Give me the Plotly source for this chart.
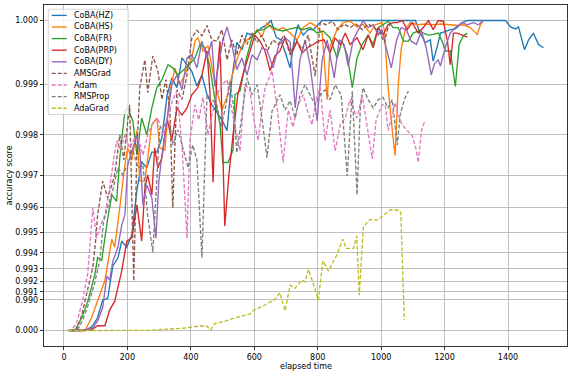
import numpy as np
import plotly.graph_objects as go

# ---------------- data (accuracy score vs elapsed time) ----------------
hz_t = [12, 37, 62, 87, 106, 122, 138, 154, 170, 182, 198, 214, 230, 245, 261, 277, 293, 309, 325, 340,
        356, 372, 388, 403, 419, 435, 451, 466, 482, 498, 514, 529, 545, 561, 577, 593, 609, 624, 640, 653,
        669, 684, 700, 713, 726, 738, 754, 770, 786, 801, 814, 850, 890, 930, 970, 1010, 1050, 1090, 1108, 1123,
        1139, 1155, 1164, 1177, 1187, 1202, 1218, 1234, 1256, 1272, 1310, 1350, 1392, 1408, 1424, 1433, 1452, 1465, 1480, 1496,
        1512]
hz_acc = [0.30, 0.60, 0.90, 0.9804, 0.9862, 0.98995, 0.9902, 0.9932, 0.9937, 0.9946, 0.9943, 0.9949, 0.99657, 0.99736, 0.9972, 0.9976, 0.9976, 0.99794, 0.9988, 0.99911,
          0.99894, 0.99944, 0.99933, 0.99922, 0.99897, 0.99916, 0.99881, 0.99862, 0.99848, 0.99832, 0.99809, 0.99908, 0.99968, 0.99957, 0.99982, 0.99979, 0.99984, 0.9999, 0.99994, 1.0,
          0.99976, 0.99972, 0.99949, 0.99928, 0.99972, 0.99994, 0.99979, 0.99987, 0.99987, 0.99994, 1.0, 1.0, 1.0, 1.0, 1.0, 1.0, 1.0, 1.0, 1.0, 0.99982,
          0.99968, 0.99972, 0.99939, 0.99962, 0.99982, 0.99984, 0.99987, 0.99988, 0.99997, 1.0, 1.0, 1.0, 1.0, 0.99991, 0.99988, 0.99991, 0.99957, 0.99972, 0.99982, 0.99965,
          0.9996]

hs_t = [18, 43, 66, 87, 106, 129, 151, 160, 176, 192, 201, 214, 230, 239, 255, 277, 293, 302, 318, 334,
        350, 365, 381, 403, 413, 422, 438, 454, 476, 498, 514, 529, 545, 561, 577, 593, 609, 624, 640, 659,
        675, 691, 713, 735, 754, 776, 798, 814, 830, 839, 861, 880, 902, 924, 943, 965, 981, 1003, 1010, 1022,
        1035, 1044, 1054, 1063, 1076, 1092, 1114, 1139, 1164, 1190, 1218, 1243, 1259, 1281, 1303, 1313, 1322]
hs_acc = [0.3, 0.6, 0.9, 0.9862, 0.9898, 0.9921, 0.9947, 0.9943, 0.9960, 0.99728, 0.9977, 0.9974, 0.9981, 0.99683, 0.99683, 0.99822, 0.99836, 0.9977, 0.99765, 0.99888,
          0.99928, 0.99899, 0.99916, 0.99944, 0.9997, 0.99975, 0.99955, 0.99963, 0.99902, 0.99852, 0.99877, 0.99913, 0.99941, 0.99962, 0.99972, 0.99976, 0.99987, 0.99976, 0.99997, 0.99987,
          0.99987, 0.9999, 0.99982, 0.99972, 0.9999, 0.99997, 0.99991, 0.99982, 0.99872, 0.99962, 0.99987, 0.99997, 0.99999, 0.99991, 0.99995, 0.99982, 0.99994, 0.99997, 0.99987, 0.99894,
          0.99811, 0.99751, 0.99899, 0.99957, 0.99987, 0.99997, 0.99994, 0.99995, 0.99994, 0.99995, 0.99994, 0.99993, 0.99994, 0.9999, 0.9998, 0.99994, 1.0]

fr_t = [18, 34, 56, 75, 97, 106, 119, 138, 151, 166, 176, 192, 201, 217, 230, 245, 261, 277, 293, 309,
        328, 343, 359, 375, 391, 413, 429, 444, 460, 476, 492, 501, 517, 533, 539, 555, 574, 593, 609, 630,
        650, 672, 691, 713, 735, 754, 776, 798, 817, 839, 861, 877, 893, 909, 924, 940, 959, 975, 991, 1006,
        1022, 1038, 1054, 1070, 1086, 1101, 1117, 1133, 1149, 1164, 1180, 1193, 1202, 1218, 1234, 1246, 1259, 1272]
fr_acc = [0.3, 0.5, 0.9862, 0.9898, 0.99254, 0.99372, 0.99357, 0.9956, 0.99641, 0.9962, 0.99746, 0.9985, 0.99856, 0.9983, 0.99753, 0.99836, 0.998, 0.99856, 0.99894, 0.99908,
          0.99933, 0.99928, 0.99916, 0.99923, 0.99931, 0.99944, 0.99965, 0.9996, 0.9993, 0.99872, 0.99822, 0.99734, 0.99734, 0.99765, 0.99881, 0.99888, 0.99941, 0.99975, 0.99986, 0.99987,
          0.99993, 0.99987, 0.99985, 0.99988, 0.9999, 0.99987, 0.9999, 0.99982, 0.99985, 0.99975, 0.99944, 0.9997, 0.99949, 0.99894, 0.99944, 0.99965, 0.99979, 0.99965, 0.9999, 0.99994,
          0.99999, 0.9999, 0.9999, 0.9997, 0.9997, 0.99982, 0.99985, 0.99982, 0.99979, 0.9998, 0.99982, 0.99969, 0.99955, 0.99955, 0.99896, 0.99965, 0.99978, 0.99982]

prp_t = [24, 56, 87, 106, 129, 144, 160, 182, 198, 214, 230, 245, 255, 264, 277, 286, 296, 309, 325, 340,
         356, 372, 388, 403, 422, 435, 451, 460, 470, 482, 492, 507, 520, 533, 548, 564, 586, 602, 618, 634,
         650, 665, 681, 697, 716, 735, 751, 770, 786, 801, 820, 839, 855, 871, 887, 902, 924, 943, 959, 975,
         991, 1006, 1022, 1038, 1051, 1067, 1082, 1098, 1117, 1133, 1149, 1164, 1180, 1196, 1209, 1218, 1228, 1240, 1256, 1272]
prp_acc = [0.2, 0.5, 0.9735, 0.982, 0.982, 0.98823, 0.9898, 0.99284, 0.99461, 0.99476, 0.99608, 0.99461, 0.99663, 0.99701, 0.99641, 0.9977, 0.9972, 0.99746, 0.99836, 0.99787,
           0.99856, 0.99842, 0.99856, 0.99881, 0.99894, 0.99916, 0.99955, 0.99888, 0.9968, 0.99916, 0.9997, 0.99528, 0.99701, 0.998, 0.99881, 0.99916, 0.99955, 0.99979, 0.9997, 0.99955,
           0.99923, 0.99947, 0.99955, 0.99975, 0.99949, 0.9997, 0.99952, 0.99961, 0.99965, 0.9997, 0.99972, 0.99952, 0.99975, 0.99965, 0.99982, 0.99965, 0.99975, 0.99957, 0.99979, 0.9996,
           0.9999, 0.99979, 0.99994, 0.99997, 0.99997, 1.0, 0.99987, 0.99997, 0.99982, 0.9999, 1.0, 0.99987, 1.0, 0.99999, 0.9997, 0.99933, 0.99982, 0.99982, 0.99979, 0.99976]

dy_t = [18, 43, 66, 91, 106, 122, 135, 144, 154, 170, 182, 192, 201, 217, 230, 239, 249, 261, 277, 290,
        299, 309, 325, 340, 356, 372, 388, 403, 419, 435, 451, 466, 476, 489, 501, 514, 529, 545, 561, 577,
        593, 609, 624, 640, 659, 678, 697, 713, 729, 744, 760, 776, 798, 814, 830, 852, 868, 883, 896, 912,
        928, 943, 959, 975, 991, 1003, 1016, 1032, 1048, 1063, 1079, 1095, 1111, 1127, 1142, 1158, 1168, 1180, 1187, 1202,
        1218, 1234, 1256, 1272, 1291, 1307, 1322]
dy_acc = [0.2, 0.5, 0.9, 0.9794, 0.985, 0.9887, 0.99246, 0.99213, 0.9935, 0.9943, 0.99532, 0.99571, 0.99728, 0.9977, 0.998, 0.99765, 0.99608, 0.99672, 0.99631, 0.99475,
          0.99683, 0.99753, 0.99832, 0.99899, 0.99916, 0.9989, 0.99944, 0.99949, 0.99928, 0.9997, 0.99944, 0.9997, 0.99896, 0.99941, 0.99972, 0.99991, 0.99965, 0.99925, 0.99944, 0.99916,
          0.99949, 0.99941, 0.9996, 0.99957, 0.99928, 0.99965, 0.99975, 0.99969, 0.99856, 0.99941, 0.99972, 0.99933, 0.9983, 0.99941, 0.99972, 0.99911, 0.99972, 0.99965, 0.99931, 0.99972,
          0.99987, 1.0, 0.9999, 0.99994, 0.99979, 0.99987, 0.9996, 0.99928, 0.9997, 0.9999, 0.99987, 0.9997, 0.99965, 0.99985, 0.9996, 0.99916, 0.99935, 0.99941, 0.99931, 0.9996,
          0.99982, 0.9999, 0.99997, 0.99994, 0.99997, 0.99994, 1.0]

ams_t = [18, 40, 56, 72, 91, 100, 106, 122, 138, 151, 160, 176, 189, 198, 207, 220, 230, 239, 255, 264,
         280, 296, 309, 321, 334, 343, 356, 372, 388, 403, 419, 435, 451, 466, 482, 498, 514, 529, 545, 561,
         577, 593, 609, 624, 643, 659, 675, 694, 713, 732, 751, 770, 792, 808, 827, 846, 864, 883, 902, 921,
         940, 959, 978, 997, 1010, 1022, 1035]
ams_acc = [0.3, 0.9735, 0.98703, 0.9909, 0.99311, 0.99466, 0.99571, 0.99683, 0.99631, 0.99672, 0.99701, 0.998, 0.99741, 0.99811, 0.99862, 0.99205, 0.99765, 0.99894, 0.99941, 0.99885,
           0.99947, 0.99923, 0.99872, 0.99908, 0.99852, 0.99598, 0.9989, 0.99872, 0.99916, 0.99975, 0.99986, 0.99978, 0.99993, 0.99972, 0.9997, 0.99987, 0.99941, 0.99972, 0.99949, 0.99979,
           0.99965, 0.99982, 0.99968, 0.99979, 0.99957, 0.99972, 0.99965, 0.99979, 0.99949, 0.99972, 0.99957, 0.99979, 0.99914, 0.99997, 0.99994, 0.99999, 0.99987, 0.99995, 0.9999, 0.99995,
           0.99987, 0.99995, 0.9999, 0.99982, 0.99968, 0.99991, 0.99999]

adam_t = [12, 24, 40, 59, 75, 91, 103, 116, 129, 144, 154, 166, 179, 192, 207, 223, 236, 249, 264, 280,
          296, 312, 328, 343, 356, 372, 388, 397, 413, 425, 438, 454, 470, 482, 498, 514, 529, 555, 570, 586,
          599, 612, 624, 634, 656, 672, 691, 707, 722, 738, 754, 767, 782, 795, 808, 823, 839, 855, 871, 887,
          902, 924, 940, 953, 972, 984, 1003, 1013, 1022, 1035, 1044, 1054, 1066, 1082, 1098, 1111, 1117, 1127, 1139]
adam_acc = [0.5, 0.9735, 0.9838, 0.98995, 0.9927, 0.99597, 0.99475, 0.99532, 0.99571, 0.99663, 0.99728, 0.99787, 0.99765, 0.998, 0.9977, 0.99793, 0.99787, 0.99753, 0.998, 0.99826,
            0.99836, 0.998, 0.99842, 0.99872, 0.99888, 0.99777, 0.99475, 0.99787, 0.99862, 0.99832, 0.99876, 0.998, 0.99852, 0.99881, 0.99899, 0.99908, 0.99852, 0.99763, 0.99899, 0.9989,
            0.99832, 0.99787, 0.99852, 0.99894, 0.99923, 0.99856, 0.99734, 0.99852, 0.99817, 0.99862, 0.99881, 0.99852, 0.99822, 0.99872, 0.99894, 0.99787, 0.99852, 0.99763, 0.99822, 0.99836,
            0.99872, 0.99836, 0.99881, 0.99832, 0.99743, 0.99832, 0.99862, 0.99862, 0.9981, 0.99842, 0.99866, 0.99842, 0.99822, 0.9981, 0.99798, 0.99765, 0.99734, 0.9981, 0.99832]

rms_t = [24, 43, 59, 75, 97, 113, 125, 138, 154, 170, 185, 201, 217, 233, 249, 264, 280, 293, 302, 318,
         334, 343, 359, 375, 391, 406, 419, 435, 451, 466, 482, 495, 511, 523, 536, 545, 561, 577, 593, 609,
         624, 640, 656, 672, 681, 697, 713, 729, 744, 760, 776, 792, 808, 823, 839, 855, 874, 893, 909, 924,
         934, 943, 959, 975, 991, 1006, 1022, 1035, 1051, 1060, 1073, 1086]
rms_acc = [0.4, 0.9735, 0.98536, 0.989, 0.9919, 0.99357, 0.99548, 0.99597, 0.99657, 0.9972, 0.99701, 0.99728, 0.99765, 0.9972, 0.99728, 0.99571, 0.99403, 0.99692, 0.99815, 0.99822,
           0.99822, 0.99777, 0.99811, 0.9977, 0.9972, 0.99777, 0.99741, 0.99372, 0.99881, 0.99872, 0.99862, 0.99817, 0.99862, 0.99906, 0.99852, 0.99758, 0.99836, 0.99911, 0.99881, 0.99899,
           0.99836, 0.99746, 0.9985, 0.99872, 0.99881, 0.99852, 0.9987, 0.99836, 0.99879, 0.99899, 0.99881, 0.99862, 0.99881, 0.9989, 0.99872, 0.99899, 0.99881, 0.99698, 0.99888, 0.99641,
           0.99852, 0.99894, 0.99872, 0.99856, 0.99872, 0.99876, 0.99856, 0.99872, 0.99777, 0.99842, 0.99872, 0.99888]

ada_t = [13, 60, 110, 160, 215, 260, 323, 380, 428, 450, 462, 476, 502, 534, 586, 602, 623, 650, 660, 681,
         697, 713, 728, 750, 760, 771, 786, 802, 816, 834, 860, 879, 890, 913, 923, 931, 944, 965, 986, 1002,
         1028, 1055, 1062, 1073]
ada_acc = [0.4, 0.8, 0.9, 0.93, 0.95, 0.965, 0.9765, 0.979, 0.9818, 0.9818, 0.9735, 0.98377, 0.98461, 0.986, 0.9873, 0.98838, 0.98887, 0.9897, 0.9898, 0.99087,
           0.98808, 0.99167, 0.99135, 0.99213, 0.99198, 0.99296, 0.99183, 0.98994, 0.99353, 0.99286, 0.99387, 0.9947, 0.99424, 0.99424, 0.99485, 0.9906, 0.99525, 0.99555, 0.99552, 0.99565,
           0.9959, 0.9959, 0.9958, 0.98536]

series_names = ["CoBA(HZ)", "CoBA(HS)", "CoBA(FR)", "CoBA(PRP)", "CoBA(DY)", "AMSGrad", "Adam", "RMSProp", "AdaGrad"]
x_ticks = [0, 200, 400, 600, 800, 1000, 1200, 1400]
y_ticks = [0.0, 0.990, 0.991, 0.992, 0.993, 0.994, 0.995, 0.996, 0.997, 0.998, 0.999, 1.000]
y_tick_labels = ["0.000", "0.990", "0.991", "0.992", "0.993", "0.994", "0.995", "0.996", "0.997", "0.998", "0.999", "1.000"]
x_label = "elapsed time"
y_label = "accuracy score"

# ---------------- styling ----------------
POW = 230  # custom power scale of the y axis (y -> y**230)
colors = ["#1f77b4", "#ff7f0e", "#2ca02c", "#d62728", "#9467bd", "#8c564b", "#e377c2", "#7f7f7f", "#bcbd22"]
dashes = ["solid"] * 5 + ["4px,2px"] * 4
data = [(hz_t, hz_acc), (hs_t, hs_acc), (fr_t, fr_acc), (prp_t, prp_acc), (dy_t, dy_acc),
        (ams_t, ams_acc), (adam_t, adam_acc), (rms_t, rms_acc), (ada_t, ada_acc)]

W, H = 573, 376
L, R, T, B = 44, 6, 5, 30
PW, PH = W - L - R, H - T - B
FONT = "DejaVu Sans"
LW = 1.35


def fx(p):
    return (p - L) / PW


def fy(p):
    return 1 - (p - T) / PH


fig = go.Figure()
for name, (t, acc), c, d in zip(series_names, data, colors, dashes):
    assert len(t) == len(acc), name
    fig.add_trace(go.Scatter(x=t, y=np.array(acc) ** POW, mode="lines", name=name,
                             line=dict(color=c, width=LW, dash=d), showlegend=False))

axis_common = dict(showgrid=True, gridcolor="#b0b0b0", gridwidth=0.8, zeroline=False,
                   showline=True, linecolor="black", linewidth=0.8, mirror=True,
                   ticks="outside", ticklen=3.5, tickwidth=0.8, tickcolor="black",
                   tickfont=dict(family=FONT, size=8, color="black"), automargin=False)

fig.update_layout(
    width=W, height=H, margin=dict(l=L, r=R, t=T, b=B, autoexpand=False),
    paper_bgcolor="white", plot_bgcolor="white",
    font=dict(family=FONT, size=8, color="black"),
    xaxis=dict(range=[-63, 1586], tickvals=x_ticks, ticktext=[str(v) for v in x_ticks], **axis_common),
    yaxis=dict(range=[-0.05, 1.05], tickvals=[v ** POW for v in y_ticks], ticktext=y_tick_labels, **axis_common),
)

# ---------------- legend (drawn like matplotlib's boxed legend) ----------------
shapes = [dict(type="rect", xref="paper", yref="paper", x0=fx(48.3), x1=fx(128.3), y0=fy(114.5), y1=fy(9.3),
               fillcolor="rgba(255,255,255,0.8)", line=dict(color="#cccccc", width=0.8), layer="above")]
annotations = [
    dict(xref="paper", yref="paper", x=fx(305.5), y=fy(366), text=x_label, showarrow=False,
         xanchor="center", yanchor="middle", font=dict(family=FONT, size=8, color="black")),
    dict(xref="paper", yref="paper", x=fx(8.5), y=fy(176), text=y_label, showarrow=False, textangle=-90,
         xanchor="center", yanchor="middle", font=dict(family=FONT, size=8, color="black")),
]
for i, (name, c, d) in enumerate(zip(series_names, colors, dashes)):
    yc = 15.4 + i * 11.6
    shapes.append(dict(type="line", xref="paper", yref="paper", x0=fx(51.7), x1=fx(66.7), y0=fy(yc), y1=fy(yc),
                       line=dict(color=c, width=LW, dash=d), layer="above"))
    annotations.append(dict(xref="paper", yref="paper", x=fx(72.3), y=fy(yc), text=name, showarrow=False,
                            xanchor="left", yanchor="middle", font=dict(family=FONT, size=8, color="black")))
fig.update_layout(shapes=shapes, annotations=annotations)

fig.write_html("out.html", config={"displayModeBar": False, "staticPlot": True},
               post_script="document.body.style.margin='0';document.body.style.overflow='hidden';")
